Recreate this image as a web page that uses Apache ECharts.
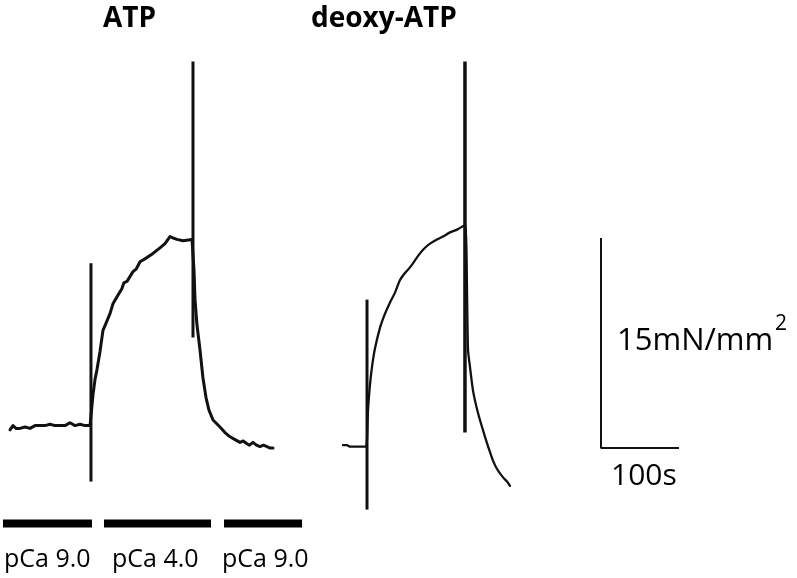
<!DOCTYPE html>
<html>
<head>
<meta charset="utf-8">
<script src="https://cdn.jsdelivr.net/npm/echarts/dist/echarts.min.js"></script>
<style>
  html, body { margin: 0; padding: 0; background: #fff; }
  #chart { width: 797px; height: 578px; }
</style>
</head>
<body>
<div id="chart"></div>
<script>
// force traces, time in s, force in mN/mm2
const atpTime = [0, 3.8, 7.7, 12.8, 19.2, 25.6, 32.1, 38.5, 44.9, 51.3, 57.7, 64.1, 70.5, 76.9, 83.3, 89.7, 96.2, 102.6,
  105.1, 106.4, 109, 111.5, 115.4, 119.2, 123, 128.2, 132, 137.2, 143.6, 146, 150, 157.7, 162, 166.7, 175.6, 183.3, 192.3, 198.7, 205.1, 209, 214.1, 221.8, 233.3,
  234.6, 235.9, 237.2, 239.7, 243.6, 247.4, 251.3, 255.1, 260.3, 269.2, 275.6, 282.1, 288.5, 294.9, 299, 303.8, 307, 311.5, 316, 320.5, 325, 329.5, 333, 337.2];
const atpForce = [-0.2, 0.1, -0.1, -0.1, 0, -0.1, 0.1, 0.1, 0.1, 0.2, 0.1, 0.1, 0.1, 0.3, 0.1, 0.2, 0.1, 0.1,
  0, 2.3, 3.4, 4.1, 5.4, 6.9, 7.4, 8.1, 8.8, 9.3, 9.9, 10.3, 10.4, 11.1, 11.3, 11.8, 12.1, 12.4, 12.8, 13.1, 13.6, 13.5, 13.4, 13.3, 13.4,
  13.4, 11.2, 9.1, 7.3, 5.5, 3.5, 2.1, 1.2, 0.5, 0, -0.4, -0.7, -0.9, -1.1, -1.0, -1.2, -1.3, -1.1, -1.3, -1.4, -1.3, -1.4, -1.5, -1.5];

const deoxyTime = [426.9, 432.1, 435.9, 439.7, 443.6, 448.7, 453.8, 456.4,
  457.7, 459, 461.5, 464.1, 467.9, 474.4, 480.8, 487.2, 493.6, 500, 506.4, 512.8, 519.2, 525.6, 532.1, 538.5, 547.4, 555.1, 564.1, 573.1, 579.5, 583.3,
  584.6, 585.9, 587.2, 589.7, 593.6, 600, 609, 615.4, 619.2, 624.4, 632.1, 637.2, 641];
const deoxyForce = [-1.3, -1.3, -1.4, -1.4, -1.4, -1.4, -1.4, -1.4,
  -0.9, 1.2, 3, 4.3, 5.6, 7.1, 8.1, 8.9, 9.6, 10.5, 11, 11.4, 11.9, 12.4, 12.8, 13.1, 13.4, 13.6, 13.9, 14.1, 14.3, 14.4,
  14.4, 9.8, 5.5, 4.3, 2.6, 1, -0.7, -1.8, -2.4, -3, -3.6, -3.9, -4.2];

// solution-change artefacts
const spikeTime = [103.8, 234.6, 457.7, 583.3];
const spikeTop = [11.7, 26.1, 9.1, 26.1];
const spikeBottom = [-3.9, 6.4, -5.9, -0.4];

// solution bars
const solutionLabels = ['pCa 9.0', 'pCa 4.0', 'pCa 9.0'];
const solutionStart = [-9, 120.5, 274.4];
const solutionEnd = [105.1, 257.7, 374.4];
const solutionLevel = -6.9;

// scale bar
const scaleOrigin = [757.7, -1.5];
const scaleTime = 100;
const scaleForce = 15;

const FONT = '"Open Sans", "Noto Sans", sans-serif';

const chart = echarts.init(document.getElementById('chart'));

const series = [];

series.push({
  type: 'line', name: 'ATP', symbol: 'none', silent: true,
  data: atpTime.map((t, i) => [t, atpForce[i]]),
  lineStyle: { color: '#111', width: 3, join: 'round', cap: 'round' }
});
series.push({
  type: 'line', name: 'deoxy-ATP', symbol: 'none', silent: true, smooth: 0.2,
  data: deoxyTime.map((t, i) => [t, deoxyForce[i]]),
  lineStyle: { color: '#111', width: 2.3, join: 'round', cap: 'round' }
});
spikeTime.forEach((t, i) => {
  series.push({
    type: 'line', symbol: 'none', silent: true,
    data: [[t, spikeTop[i]], [t, spikeBottom[i]]],
    lineStyle: { color: '#111', width: i === 3 ? 3.5 : 3 }
  });
});
solutionStart.forEach((s, i) => {
  series.push({
    type: 'line', symbol: 'none', silent: true,
    data: [[s, solutionLevel], [solutionEnd[i], solutionLevel]],
    lineStyle: { color: '#000', width: 8, cap: 'butt' }
  });
});
series.push({
  type: 'line', symbol: 'none', silent: true,
  data: [
    [scaleOrigin[0], scaleOrigin[1] + scaleForce],
    [scaleOrigin[0], scaleOrigin[1]],
    [scaleOrigin[0] + scaleTime, scaleOrigin[1]]
  ],
  lineStyle: { color: '#111', width: 2 }
});

// labels
const graphic = [
  { type: 'text', left: 103, top: 5, style: { text: 'ATP', font: 'bold 28px ' + FONT, fill: '#000' } },
  { type: 'text', left: 311, top: 5, style: { text: 'deoxy-ATP', font: 'bold 28px ' + FONT, fill: '#000' } },
  { type: 'text', left: 617, top: 326, style: { text: '15mN/mm', font: '31px ' + FONT, fill: '#000' } },
  { type: 'text', left: 775, top: 314, style: { text: '2', font: '21px ' + FONT, fill: '#000' } },
  { type: 'text', left: 611, top: 461, style: { text: '100s', font: '30px ' + FONT, fill: '#000' } }
];
const labelX = [4, 112, 222];
solutionLabels.forEach((s, i) => {
  graphic.push({ type: 'text', left: labelX[i], top: 547, style: { text: s, font: '25px ' + FONT, fill: '#000' } });
});

chart.setOption({
  animation: false,
  backgroundColor: '#fff',
  grid: { left: 0, right: 0, top: 0, bottom: 0 },
  xAxis: { type: 'value', min: -12.82, max: 1008.97, show: false },
  yAxis: { type: 'value', min: -10.786, max: 30.5, show: false },
  series: series,
  graphic: graphic
});
</script>
</body>
</html>
